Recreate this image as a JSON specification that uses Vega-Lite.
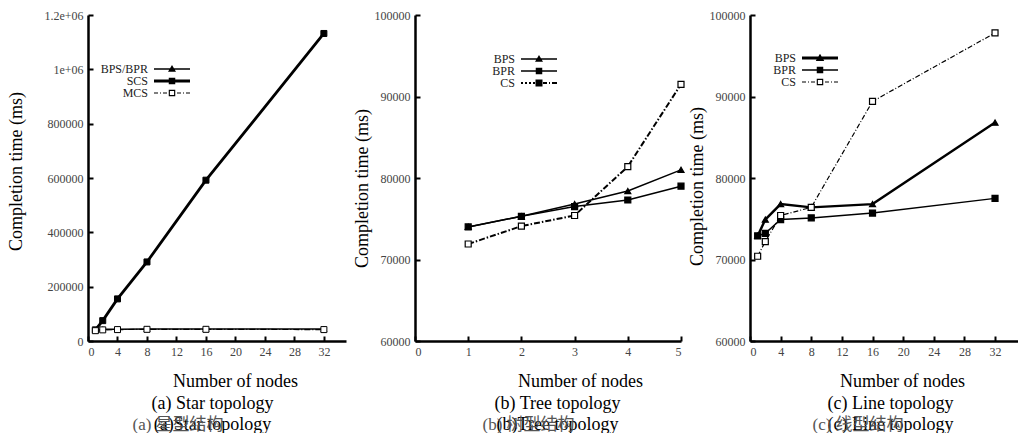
{
  "$schema": "https://vega.github.io/schema/vega-lite/v6.json",
  "background": "white",
  "padding": {"left": 7, "top": 9, "right": 0, "bottom": 0},
  "spacing": 69,
  "bounds": "flush",
  "datasets": {
    "a": [
      {"nodes": 1, "time": 40000, "series": "BPS/BPR"},
      {"nodes": 2, "time": 43000, "series": "BPS/BPR"},
      {"nodes": 4, "time": 43000, "series": "BPS/BPR"},
      {"nodes": 8, "time": 44000, "series": "BPS/BPR"},
      {"nodes": 16, "time": 44000, "series": "BPS/BPR"},
      {"nodes": 32, "time": 44000, "series": "BPS/BPR"},
      {"nodes": 1, "time": 41000, "series": "SCS"},
      {"nodes": 2, "time": 75000, "series": "SCS"},
      {"nodes": 4, "time": 155000, "series": "SCS"},
      {"nodes": 8, "time": 291000, "series": "SCS"},
      {"nodes": 16, "time": 592000, "series": "SCS"},
      {"nodes": 32, "time": 1132000, "series": "SCS"},
      {"nodes": 1, "time": 38000, "series": "MCS"},
      {"nodes": 2, "time": 41000, "series": "MCS"},
      {"nodes": 4, "time": 42000, "series": "MCS"},
      {"nodes": 8, "time": 43000, "series": "MCS"},
      {"nodes": 16, "time": 43000, "series": "MCS"},
      {"nodes": 32, "time": 42000, "series": "MCS"}
    ],
    "b": [
      {"nodes": 1, "time": 74000, "series": "BPS"},
      {"nodes": 2, "time": 75300, "series": "BPS"},
      {"nodes": 3, "time": 76800, "series": "BPS"},
      {"nodes": 4, "time": 78400, "series": "BPS"},
      {"nodes": 5, "time": 81000, "series": "BPS"},
      {"nodes": 1, "time": 74000, "series": "BPR"},
      {"nodes": 2, "time": 75300, "series": "BPR"},
      {"nodes": 3, "time": 76500, "series": "BPR"},
      {"nodes": 4, "time": 77300, "series": "BPR"},
      {"nodes": 5, "time": 79000, "series": "BPR"},
      {"nodes": 1, "time": 71900, "series": "CS"},
      {"nodes": 2, "time": 74100, "series": "CS"},
      {"nodes": 3, "time": 75400, "series": "CS"},
      {"nodes": 4, "time": 81400, "series": "CS"},
      {"nodes": 5, "time": 91500, "series": "CS"}
    ],
    "c": [
      {"nodes": 1, "time": 72900, "series": "BPS"},
      {"nodes": 2, "time": 74900, "series": "BPS"},
      {"nodes": 4, "time": 76800, "series": "BPS"},
      {"nodes": 8, "time": 76400, "series": "BPS"},
      {"nodes": 16, "time": 76800, "series": "BPS"},
      {"nodes": 32, "time": 86800, "series": "BPS"},
      {"nodes": 1, "time": 72900, "series": "BPR"},
      {"nodes": 2, "time": 73200, "series": "BPR"},
      {"nodes": 4, "time": 74900, "series": "BPR"},
      {"nodes": 8, "time": 75100, "series": "BPR"},
      {"nodes": 16, "time": 75700, "series": "BPR"},
      {"nodes": 32, "time": 77500, "series": "BPR"},
      {"nodes": 1, "time": 70400, "series": "CS"},
      {"nodes": 2, "time": 72200, "series": "CS"},
      {"nodes": 4, "time": 75400, "series": "CS"},
      {"nodes": 8, "time": 76400, "series": "CS"},
      {"nodes": 16, "time": 89400, "series": "CS"},
      {"nodes": 32, "time": 97800, "series": "CS"}
    ]
  },
  "config": {
    "view": {"stroke": null},
    "font": "Liberation Serif",
    "axis": {
      "grid": false,
      "domainColor": "black",
      "domainWidth": 2.5,
      "tickColor": "black",
      "tickWidth": 2,
      "tickSize": -5,
      "labelPadding": 10,
      "labelFont": "Liberation Serif",
      "labelFontSize": 12,
      "labelColor": "#444",
      "titleFont": "Liberation Serif",
      "titleFontSize": 18,
      "titleFontWeight": "normal",
      "titleColor": "black"
    },
    "legend": {
      "labelFont": "Liberation Serif",
      "labelFontSize": 12,
      "labelColor": "#222",
      "symbolStrokeWidth": 0,
      "symbolFillColor": "black",
      "symbolOpacity": 1
    }
  },
  "resolve": {
    "scale": {"x": "independent", "y": "independent", "shape": "independent", "fill": "independent"},
    "legend": {"shape": "independent"}
  },
  "hconcat": [
    {
      "width": 258,
      "height": 326,
      "data": {"name": "a"},
      "resolve": {"axis": {"x": "independent", "y": "independent"}, "scale": {"shape": "independent"}},
      "layer": [
        {
          "transform": [{"filter": {"field": "series", "equal": "MCS"}}],
          "mark": {"type": "line", "color": "black", "strokeWidth": 1.2, "strokeDash": [6, 2, 1, 2]},
          "encoding": {
            "x": {"field": "nodes", "type": "quantitative", "scale": {"domain": [0, 32]},
              "axis": {"orient": "bottom", "values": [0, 4, 8, 12, 16, 20, 24, 28, 32], "title": "Number of nodes", "titleX": 147, "titleY": 40, "titleBaseline": "middle", "titleAlign": "center"}},
            "y": {"field": "time", "type": "quantitative", "scale": {"domain": [0, 1200000]},
              "axis": {"orient": "left", "values": [0, 200000, 400000, 600000, 800000, 1000000, 1200000], "labelExpr": "datum.value >= 1000000 ? (datum.value / 1000000) + 'e+06' : '' + datum.value", "title": "Completion time (ms)", "titleX": -72, "titleY": 156, "titleBaseline": "middle", "titleAlign": "center"}}
          }
        },
        {
          "transform": [{"filter": {"field": "series", "equal": "BPS/BPR"}}],
          "mark": {"type": "line", "color": "black", "strokeWidth": 1.5},
          "encoding": {
            "x": {"field": "nodes", "type": "quantitative", "axis": null},
            "y": {"field": "time", "type": "quantitative", "axis": null}
          }
        },
        {
          "transform": [{"filter": {"field": "series", "equal": "SCS"}}],
          "mark": {"type": "line", "color": "black", "strokeWidth": 2.8},
          "encoding": {
            "x": {"field": "nodes", "type": "quantitative", "axis": null},
            "y": {"field": "time", "type": "quantitative", "axis": null}
          }
        },
        {
          "mark": {"type": "point", "filled": true, "size": 36, "stroke": "black", "strokeWidth": 1, "opacity": 1},
          "encoding": {
            "x": {"field": "nodes", "type": "quantitative",
              "axis": {"orient": "bottom", "domain": false, "ticks": false, "labels": false, "title": ["(a) Star topology", "(a)Star topology"], "titleX": 124, "titleY": 53, "titleBaseline": "top", "titleAlign": "center", "titleLineHeight": 21}},
            "y": {"field": "time", "type": "quantitative",
              "axis": {"orient": "left", "domain": false, "ticks": false, "labels": false, "title": "(a) 星型结构", "titleAngle": 0, "titleX": 44, "titleY": 409, "titleAlign": "left", "titleBaseline": "middle", "titleColor": "#555", "titleFont": "Liberation Serif, Noto Sans CJK SC", "titleFontSize": 17}},
            "shape": {"field": "series", "type": "nominal",
              "scale": {"domain": ["BPS/BPR", "SCS", "MCS"], "range": ["triangle-up", "square", "square"]}, "legend": null},
            "fill": {"field": "series", "type": "nominal",
              "scale": {"domain": ["BPS/BPR", "SCS", "MCS"], "range": ["black", "black", "white"]}, "legend": null}
          }
        },
        {
          "mark": {"type": "point", "filled": true, "color": "black", "opacity": 0, "size": 100},
          "encoding": {
            "x": {"field": "nodes", "type": "quantitative", "axis": null},
            "y": {"field": "time", "type": "quantitative", "axis": null},
            "shape": {"field": "series", "type": "nominal",
              "scale": {"domain": ["BPS/BPR", "SCS", "MCS"], "range": [
                "M-3.6,-0.15H3.6V0.15H-3.6Z M0,-0.8L0.8,0.55H-0.8Z",
                "M-3.6,-0.3H3.6V0.3H-3.6Z M-0.65,-0.65H0.65V0.65H-0.65Z",
                "M-3.6,-0.12H-2.8V0.12H-3.6Z M-2.4,-0.12H-2.2V0.12H-2.4Z M-1.8,-0.12H-1.0V0.12H-1.8Z M1.0,-0.12H1.8V0.12H1.0Z M2.2,-0.12H2.4V0.12H2.2Z M2.8,-0.12H3.6V0.12H2.8Z M-0.65,-0.65H0.65V0.65H-0.65Z M-0.42,-0.42V0.42H0.42V-0.42Z"]},
              "legend": {"title": null, "orient": "none", "legendX": 78, "legendY": 48, "padding": 0, "labelAlign": "right", "labelOffset": -30, "labelBaseline": "middle", "labelLimit": 300, "symbolSize": 100, "rowPadding": -6, "symbolStrokeWidth": 0, "symbolFillColor": "black", "symbolOpacity": 1}}
          }
        }
      ]
    },
    {
      "width": 266,
      "height": 326,
      "data": {"name": "b"},
      "resolve": {"axis": {"x": "independent", "y": "independent"}, "scale": {"shape": "independent"}},
      "layer": [
        {
          "transform": [{"filter": {"field": "series", "equal": "CS"}}],
          "mark": {"type": "line", "color": "black", "strokeWidth": 2, "strokeDash": [6, 2, 1.5, 2]},
          "encoding": {
            "x": {"field": "nodes", "type": "quantitative", "scale": {"domain": [0, 5]},
              "axis": {"orient": "bottom", "values": [0, 1, 2, 3, 4, 5], "title": "Number of nodes", "titleX": 165, "titleY": 40, "titleBaseline": "middle", "titleAlign": "center"}},
            "y": {"field": "time", "type": "quantitative", "scale": {"domain": [60000, 100000]},
              "axis": {"orient": "left", "values": [60000, 70000, 80000, 90000, 100000], "format": "d", "title": "Completion time (ms)", "titleX": -53, "titleY": 173, "titleBaseline": "middle", "titleAlign": "center"}}
          }
        },
        {
          "transform": [{"filter": {"field": "series", "equal": "BPR"}}],
          "mark": {"type": "line", "color": "black", "strokeWidth": 1.5},
          "encoding": {
            "x": {"field": "nodes", "type": "quantitative", "axis": null},
            "y": {"field": "time", "type": "quantitative", "axis": null}
          }
        },
        {
          "transform": [{"filter": {"field": "series", "equal": "BPS"}}],
          "mark": {"type": "line", "color": "black", "strokeWidth": 1.5},
          "encoding": {
            "x": {"field": "nodes", "type": "quantitative", "axis": null},
            "y": {"field": "time", "type": "quantitative", "axis": null}
          }
        },
        {
          "mark": {"type": "point", "filled": true, "size": 36, "stroke": "black", "strokeWidth": 1.2, "opacity": 1},
          "encoding": {
            "x": {"field": "nodes", "type": "quantitative",
              "axis": {"orient": "bottom", "domain": false, "ticks": false, "labels": false, "title": ["(b) Tree topology", "(b)Tree topology"], "titleX": 142, "titleY": 53, "titleBaseline": "top", "titleAlign": "center", "titleLineHeight": 21}},
            "y": {"field": "time", "type": "quantitative",
              "axis": {"orient": "left", "domain": false, "ticks": false, "labels": false, "title": "(b) 树型结构", "titleAngle": 0, "titleX": 67, "titleY": 409, "titleAlign": "left", "titleBaseline": "middle", "titleColor": "#555", "titleFont": "Liberation Serif, Noto Sans CJK SC", "titleFontSize": 17}},
            "shape": {"field": "series", "type": "nominal",
              "scale": {"domain": ["BPS", "BPR", "CS"], "range": ["triangle-up", "square", "square"]}, "legend": null},
            "fill": {"field": "series", "type": "nominal",
              "scale": {"domain": ["BPS", "BPR", "CS"], "range": ["black", "black", "white"]}, "legend": null}
          }
        },
        {
          "mark": {"type": "point", "filled": true, "color": "black", "opacity": 0, "size": 100},
          "encoding": {
            "x": {"field": "nodes", "type": "quantitative", "axis": null},
            "y": {"field": "time", "type": "quantitative", "axis": null},
            "shape": {"field": "series", "type": "nominal",
              "scale": {"domain": ["BPS", "BPR", "CS"], "range": [
                "M-3.6,-0.15H3.6V0.15H-3.6Z M0,-0.8L0.8,0.55H-0.8Z",
                "M-3.6,-0.15H3.6V0.15H-3.6Z M-0.65,-0.65H0.65V0.65H-0.65Z",
                "M-3.6,-0.2H-3.2V0.2H-3.6Z M-2.8,-0.2H-2.4V0.2H-2.8Z M-2.0,-0.2H-1.6V0.2H-2.0Z M-1.2,-0.2H-0.8V0.2H-1.2Z M-0.7,-0.7H0.7V0.7H-0.7Z M0.8,-0.2H1.6V0.2H0.8Z M2.0,-0.2H2.2V0.2H2.0Z M2.6,-0.2H3.6V0.2H2.6Z"]},
              "legend": {"title": null, "orient": "none", "legendX": 118, "legendY": 38, "padding": 0, "labelAlign": "right", "labelOffset": -30, "labelBaseline": "middle", "labelLimit": 300, "symbolSize": 100, "rowPadding": -7, "symbolStrokeWidth": 0, "symbolFillColor": "black", "symbolOpacity": 1}}
          }
        }
      ]
    },
    {
      "width": 268,
      "height": 326,
      "data": {"name": "c"},
      "resolve": {"axis": {"x": "independent", "y": "independent"}, "scale": {"shape": "independent"}},
      "layer": [
        {
          "transform": [{"filter": {"field": "series", "equal": "CS"}}],
          "mark": {"type": "line", "color": "black", "strokeWidth": 1.2, "strokeDash": [5, 2, 1, 2]},
          "encoding": {
            "x": {"field": "nodes", "type": "quantitative", "scale": {"domain": [0, 32]},
              "axis": {"orient": "bottom", "values": [0, 4, 8, 12, 16, 20, 24, 28, 32], "title": "Number of nodes", "titleX": 152, "titleY": 40, "titleBaseline": "middle", "titleAlign": "center"}},
            "y": {"field": "time", "type": "quantitative", "scale": {"domain": [60000, 100000]},
              "axis": {"orient": "left", "values": [60000, 70000, 80000, 90000, 100000], "format": "d", "title": "Completion time (ms)", "titleX": -53, "titleY": 171, "titleBaseline": "middle", "titleAlign": "center"}}
          }
        },
        {
          "transform": [{"filter": {"field": "series", "equal": "BPR"}}],
          "mark": {"type": "line", "color": "black", "strokeWidth": 1.5},
          "encoding": {
            "x": {"field": "nodes", "type": "quantitative", "axis": null},
            "y": {"field": "time", "type": "quantitative", "axis": null}
          }
        },
        {
          "transform": [{"filter": {"field": "series", "equal": "BPS"}}],
          "mark": {"type": "line", "color": "black", "strokeWidth": 2.4},
          "encoding": {
            "x": {"field": "nodes", "type": "quantitative", "axis": null},
            "y": {"field": "time", "type": "quantitative", "axis": null}
          }
        },
        {
          "mark": {"type": "point", "filled": true, "size": 36, "stroke": "black", "strokeWidth": 1.2, "opacity": 1},
          "encoding": {
            "x": {"field": "nodes", "type": "quantitative",
              "axis": {"orient": "bottom", "domain": false, "ticks": false, "labels": false, "title": ["(c) Line topology", "(c) Line topology"], "titleX": 140, "titleY": 53, "titleBaseline": "top", "titleAlign": "center", "titleLineHeight": 21}},
            "y": {"field": "time", "type": "quantitative",
              "axis": {"orient": "left", "domain": false, "ticks": false, "labels": false, "title": "(c) 线型结构", "titleAngle": 0, "titleX": 62, "titleY": 409, "titleAlign": "left", "titleBaseline": "middle", "titleColor": "#555", "titleFont": "Liberation Serif, Noto Sans CJK SC", "titleFontSize": 17}},
            "shape": {"field": "series", "type": "nominal",
              "scale": {"domain": ["BPS", "BPR", "CS"], "range": ["triangle-up", "square", "square"]}, "legend": null},
            "fill": {"field": "series", "type": "nominal",
              "scale": {"domain": ["BPS", "BPR", "CS"], "range": ["black", "black", "white"]}, "legend": null}
          }
        },
        {
          "mark": {"type": "point", "filled": true, "color": "black", "opacity": 0, "size": 100},
          "encoding": {
            "x": {"field": "nodes", "type": "quantitative", "axis": null},
            "y": {"field": "time", "type": "quantitative", "axis": null},
            "shape": {"field": "series", "type": "nominal",
              "scale": {"domain": ["BPS", "BPR", "CS"], "range": [
                "M-3.6,-0.3H3.6V0.3H-3.6Z M0,-0.85L0.85,0.6H-0.85Z",
                "M-3.6,-0.15H3.6V0.15H-3.6Z M-0.65,-0.65H0.65V0.65H-0.65Z",
                "M-3.6,-0.12H-2.8V0.12H-3.6Z M-2.4,-0.12H-2.2V0.12H-2.4Z M-1.8,-0.12H-1.0V0.12H-1.8Z M1.0,-0.12H1.8V0.12H1.0Z M2.2,-0.12H2.4V0.12H2.2Z M2.8,-0.12H3.6V0.12H2.8Z M-0.65,-0.65H0.65V0.65H-0.65Z M-0.42,-0.42V0.42H0.42V-0.42Z"]},
              "legend": {"title": null, "orient": "none", "legendX": 64, "legendY": 37, "padding": 0, "labelAlign": "right", "labelOffset": -30, "labelBaseline": "middle", "labelLimit": 300, "symbolSize": 100, "rowPadding": -7, "symbolStrokeWidth": 0, "symbolFillColor": "black", "symbolOpacity": 1}}
          }
        }
      ]
    }
  ]
}
